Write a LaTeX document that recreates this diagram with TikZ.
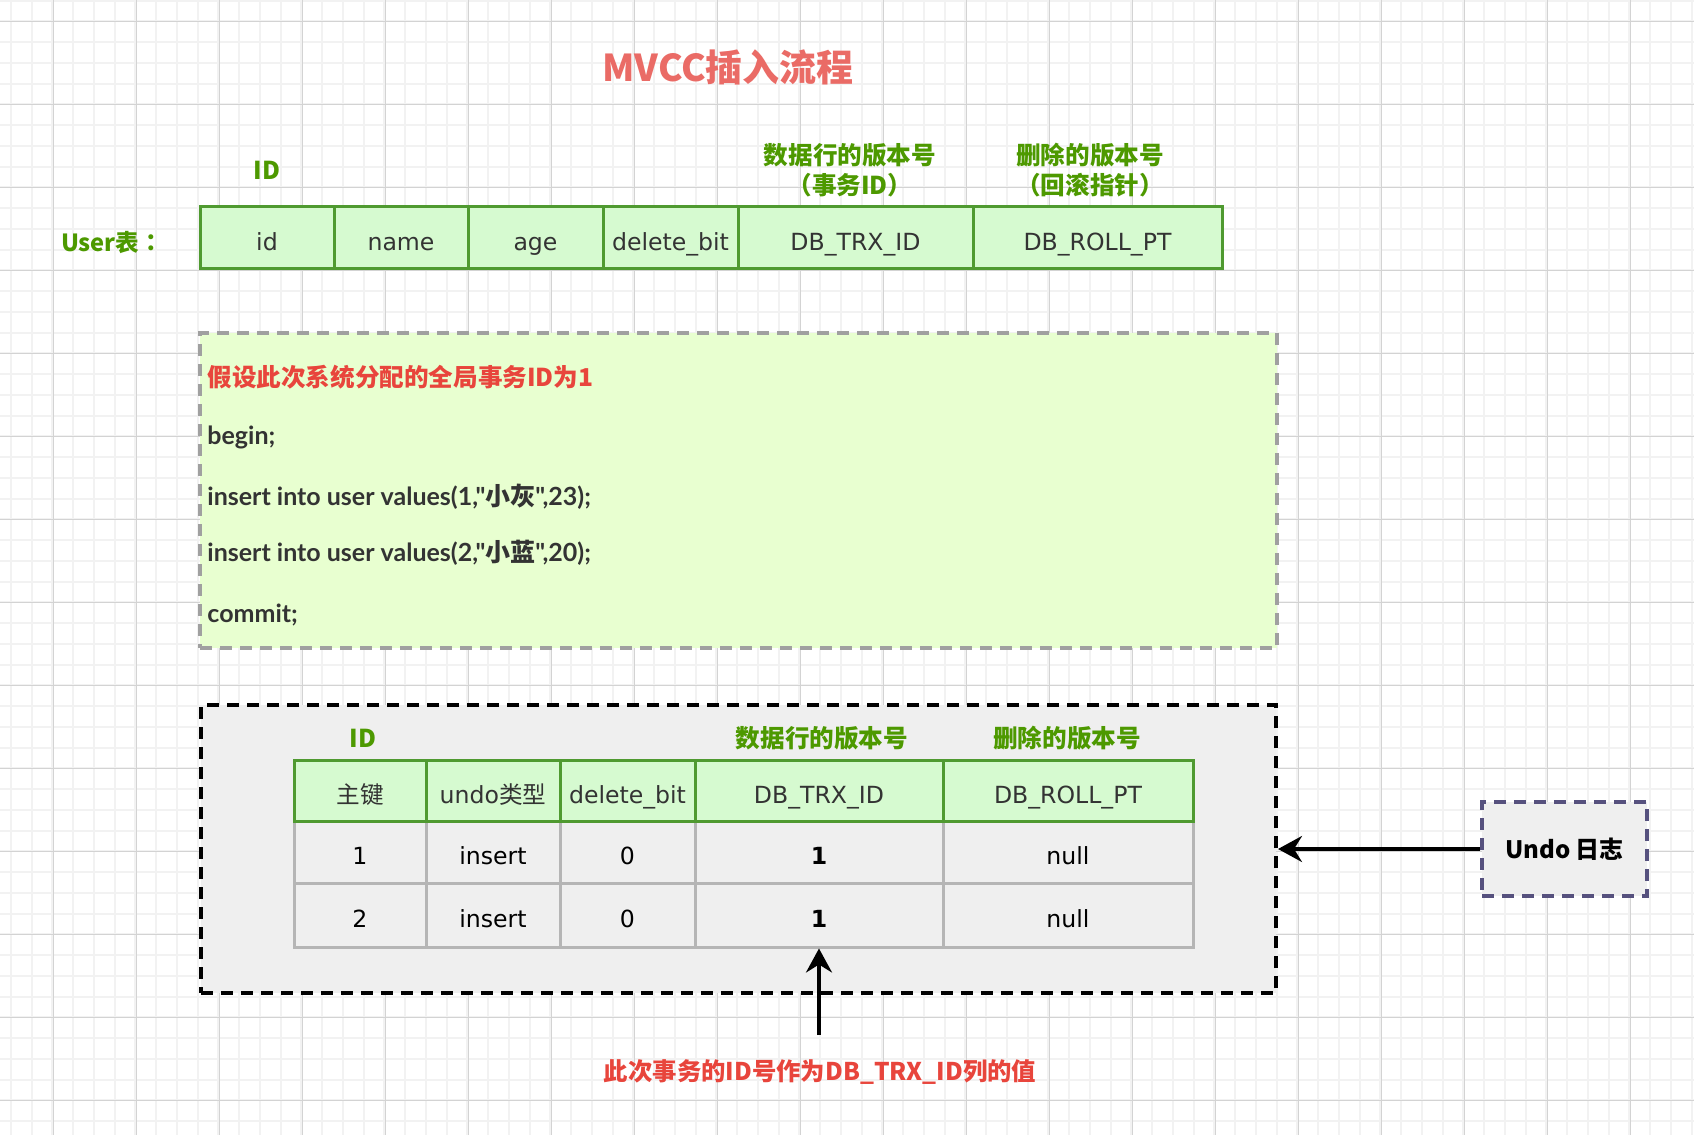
\documentclass[tikz,border=0pt]{standalone}
\usepackage{fontspec}
\setmainfont{Lato}[Ligatures=TeXOff]
\newfontfamily\cjk{Noto Sans CJK SC}
\newfontfamily\cjktc{Noto Sans CJK TC}
\newfontfamily\cellf{DejaVu Sans}
\usetikzlibrary{arrows.meta}
\definecolor{gmajor}{HTML}{D3D3D3}
\definecolor{gminor}{HTML}{F2F2F2}
\definecolor{tgreen}{HTML}{4D9900}
\definecolor{bgreen}{HTML}{4F9A30}
\definecolor{hfill}{HTML}{D6FAD0}
\definecolor{codefill}{HTML}{E8FFD0}
\definecolor{codeborder}{HTML}{A0A0A0}
\definecolor{undofill}{HTML}{EFEFEF}
\definecolor{rowborder}{HTML}{B5B5B5}
\definecolor{logborder}{HTML}{56517E}
\definecolor{titlered}{HTML}{EA6B66}
\definecolor{txtred}{HTML}{E8453C}
\definecolor{txt}{HTML}{333333}
\tikzset{
  hdr/.style={draw=bgreen, fill=hfill, line width=1.5pt, inner sep=0pt, text=txt, text height=13pt, text depth=0pt, font=\cellf\fontsize{11.8}{13}\selectfont},
  rowcell/.style={draw=rowborder, fill=undofill, line width=1.5pt, inner sep=0pt, text=black, text height=12.5pt, text depth=0pt, font=\cellf\fontsize{11.8}{13}\selectfont},
  glabel/.style={text=tgreen, inner sep=0pt, align=center, font=\cjk\bfseries\fontsize{12.3}{15}\selectfont},
  codeline/.style={anchor=west, inner sep=0pt, text=txt, font=\bfseries\fontsize{12.5}{15}\selectfont},
  arr/.style={line width=1.75pt, -{Stealth[length=12pt,width=13pt,inset=4pt]}},
  minorline/.style={gminor, line width=1pt},
  majorline/.style={gmajor, line width=0.5pt}
}
\begin{document}
\begin{tikzpicture}[x=0.5pt,y=-0.5pt]
\useasboundingbox (0,0) rectangle (1694,1135);
\fill[white] (0,0) rectangle (1694,1135);
% grid
\foreach \i in {0,...,81} \draw[minorline] (10.8+\i*20.75,0) -- (10.8+\i*20.75,1135);
\foreach \i in {0,...,54} \draw[minorline] (0,0.55+\i*20.75) -- (1694,0.55+\i*20.75);
\foreach \i in {0,...,19} \draw[majorline] (53+\i*83,0) -- (53+\i*83,1135);
\foreach \i in {0,...,13} \draw[majorline] (0,21.3+\i*83) -- (1694,21.3+\i*83);

% title
\node[text=titlered, font=\cjk\bfseries\fontsize{18.5}{22}\selectfont] (title) at (728,67) {MVCC插入流程};

% User table
\node[glabel] (idlbl) at (267,170) {ID};
\node[glabel] (trxlbl) at (850,170) {数据行的版本号\\（事务ID）};
\node[glabel] (rolllbl) at (1090,170) {删除的版本号\\（回滚指针）};
\node[glabel, font=\cjk\bfseries\fontsize{11.8}{14}\selectfont] (userlbl) at (112,243) {User表{\cjktc ：}};
\node[hdr, minimum width=67pt, minimum height=31pt] (t1) at (267,237) {id};
\node[hdr, minimum width=67pt, minimum height=31pt] (t2) at (401,237) {name};
\node[hdr, minimum width=67.5pt, minimum height=31pt] (t3) at (535.5,237) {age};
\node[hdr, minimum width=67.5pt, minimum height=31pt] (t4) at (670.5,237) {delete\_bit};
\node[hdr, minimum width=117.5pt, minimum height=31pt] (t5) at (855.5,237) {DB\_TRX\_ID};
\node[hdr, minimum width=124.5pt, minimum height=31pt] (t6) at (1097.5,237) {DB\_ROLL\_PT};

% code box
\node[draw=codeborder, fill=codefill, line width=1.75pt, dash pattern=on 6pt off 4pt, minimum width=538.5pt, minimum height=157.5pt, inner sep=0pt] (codebox) at (738.5,490.5) {};
\node[codeline, text=txtred, font=\cjk\bfseries\fontsize{12.3}{15}\selectfont] (l1) at (207,377) {假设此次系统分配的全局事务ID为1};
\node[codeline] (l2) at (207,437) {begin;};
\node[codeline] (l3) at (207,497) {insert into user values(1,"{\cjk 小灰}",23);};
\node[codeline] (l4) at (207,553) {insert into user values(2,"{\cjk 小蓝}",20);};
\node[codeline] (l5) at (207,615) {commit;};

% undo box
\node[draw=black, fill=undofill, line width=2pt, dash pattern=on 6pt off 4pt, minimum width=537.5pt, minimum height=144pt, inner sep=0pt] (undobox) at (738.5,849) {};
\node[glabel] (uid) at (363,738) {ID};
\node[glabel] (utrx) at (822,738) {数据行的版本号};
\node[glabel] (uroll) at (1067,738) {删除的版本号};

% rows
\node[rowcell, minimum width=66pt, minimum height=31pt] (r1c1) at (360,852) {1};
\node[rowcell, minimum width=67pt, minimum height=31pt] (r1c2) at (493,852) {insert};
\node[rowcell, minimum width=67.5pt, minimum height=31pt] (r1c3) at (627.5,852) {0};
\node[rowcell, minimum width=124pt, minimum height=31pt] (r1c4) at (819,852) {\bfseries 1};
\node[rowcell, minimum width=125pt, minimum height=31pt] (r1c5) at (1068,852) {null};
\node[rowcell, minimum width=66pt, minimum height=32pt] (r2c1) at (360,915) {2};
\node[rowcell, minimum width=67pt, minimum height=32pt] (r2c2) at (493,915) {insert};
\node[rowcell, minimum width=67.5pt, minimum height=32pt] (r2c3) at (627.5,915) {0};
\node[rowcell, minimum width=124pt, minimum height=32pt] (r2c4) at (819,915) {\bfseries 1};
\node[rowcell, minimum width=125pt, minimum height=32pt] (r2c5) at (1068,915) {null};
% header
\node[hdr, minimum width=66pt, minimum height=30.5pt] (h1) at (360,790.5) {{\cjk 主键}};
\node[hdr, minimum width=67pt, minimum height=30.5pt] (h2) at (493,790.5) {undo{\cjk 类型}};
\node[hdr, minimum width=67.5pt, minimum height=30.5pt] (h3) at (627.5,790.5) {delete\_bit};
\node[hdr, minimum width=124pt, minimum height=30.5pt] (h4) at (819,790.5) {DB\_TRX\_ID};
\node[hdr, minimum width=125pt, minimum height=30.5pt] (h5) at (1068,790.5) {DB\_ROLL\_PT};

% undo log box
\node[draw=logborder, fill=undofill, line width=1.75pt, dash pattern=on 6pt off 4pt, minimum width=82.5pt, minimum height=47pt, inner sep=0pt, font=\cjk\bfseries\fontsize{12}{14}\selectfont] (ulog) at (1564.5,849) {Undo 日志};
\draw[arr] (ulog.west) -- (undobox.east);

% bottom arrow + note
\coordinate (astart) at (819,1035);
\draw[arr] (astart) -- (r2c4.south);
\node[text=txtred, inner sep=0pt, font=\cjk\bfseries\fontsize{12.2}{15}\selectfont] (note) at (820,1072) {此次事务的ID号作为DB\_TRX\_ID列的值};
\end{tikzpicture}
\end{document}
